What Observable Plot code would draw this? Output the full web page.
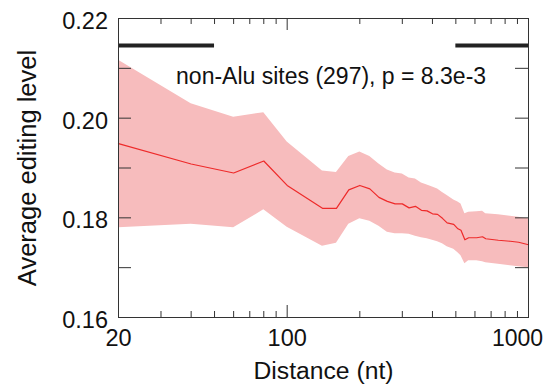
<!DOCTYPE html>
<html>
<head>
<meta charset="utf-8">
<script src="https://cdn.jsdelivr.net/npm/d3@7"></script>
<script src="https://cdn.jsdelivr.net/npm/@observablehq/plot@0.6"></script>
<style>
  html, body { margin: 0; padding: 0; background: #fff; }
  svg { font-family: "Liberation Sans", Arial, sans-serif; }
</style>
</head>
<body>
<div id="chart"></div>
<script>
// ---- data ----
const distance = [20,40,60,80,100,140,160,180,200,220,240,260,280,300,320,340,360,380,400,420,440,460,490,510,525,545,565,610,645,665,750,840,910,1000];
const meanLevel = [0.1949,0.1908,0.1890,0.1914,0.1865,0.1819,0.1819,0.1856,0.1865,0.1858,0.1841,0.1833,0.1828,0.1828,0.1820,0.1823,0.1815,0.1814,0.1808,0.1807,0.1799,0.1790,0.1787,0.1778,0.1775,0.1756,0.1760,0.1760,0.1762,0.1758,0.1755,0.1753,0.1751,0.1746];
const upperLevel = [0.2116,0.2029,0.2002,0.2011,0.1952,0.1894,0.1891,0.1923,0.1932,0.1923,0.1908,0.1896,0.1890,0.1888,0.1880,0.1878,0.1870,0.1866,0.1862,0.1858,0.1851,0.1845,0.1836,0.1832,0.1828,0.1808,0.1811,0.1812,0.1813,0.1808,0.1806,0.1803,0.1801,0.1798];
const lowerLevel = [0.1780,0.1787,0.1780,0.1816,0.1781,0.1743,0.1749,0.1787,0.1798,0.1793,0.1783,0.1771,0.1768,0.1768,0.1767,0.1763,0.1760,0.1758,0.1755,0.1752,0.1748,0.1742,0.1737,0.1730,0.1724,0.1708,0.1714,0.1714,0.1712,0.1710,0.1707,0.1704,0.1702,0.1700];

const barStarts = [20, 500];
const barEnds = [50, 1000];
const barLevel = 0.2146;

const yTickLabels = [0.16, 0.18, 0.20, 0.22];
const yTicks = [0.16, 0.17, 0.18, 0.19, 0.20, 0.21, 0.22];
const xTickLabels = [20, 100];
const xEndLabel = [1000];
const xMajorTicks = [100];
const xMinorTicks = [30,40,50,60,70,80,90,200,300,400,500,600,700,800,900];

const noteText = "non-Alu sites (297), p = 8.3e-3";
const xLabel = "Distance (nt)";
const yLabel = "Average editing level";

// ---- build ----
const rows = distance.map((d, i) => ({d, m: meanLevel[i], hi: upperLevel[i], lo: lowerLevel[i]}));
const bars = barStarts.map((s, i) => ({x1: s, x2: barEnds[i], y: barLevel}));

const W = 548, H = 386;
const mL = 118, mR = 20, mT = 18, mB = 69;
const plotW = W - mL - mR, plotH = H - mT - mB;
const axisColor = "#333";

const chart = Plot.plot({
  width: W, height: H,
  marginLeft: mL, marginRight: mR, marginTop: mT, marginBottom: mB,
  x: {type: "log", domain: [20, 1000]},
  y: {domain: [0.16, 0.22]},
  style: {fontFamily: "Liberation Sans, Arial, sans-serif", color: "#111", background: "#fff"},
  marks: [
    Plot.areaY(rows, {x: "d", y1: "lo", y2: "hi", fill: "#f7bcbd", fillOpacity: 1}),
    Plot.lineY(rows, {x: "d", y: "m", stroke: "#ee2a2a", strokeWidth: 1.2}),
    Plot.ruleY(bars, {x1: "x1", x2: "x2", y: "y", stroke: "#222", strokeWidth: 4}),
    // inward ticks
    Plot.tickY(yTicks, {y: d => d, insetRight: plotW - 13, stroke: axisColor}),
    Plot.tickY(yTicks, {y: d => d, insetLeft: plotW - 13, stroke: axisColor}),
    Plot.tickX(xMinorTicks, {x: d => d, insetTop: plotH - 6, stroke: axisColor}),
    Plot.tickX(xMinorTicks, {x: d => d, insetBottom: plotH - 6, stroke: axisColor}),
    Plot.tickX(xMajorTicks, {x: d => d, insetTop: plotH - 12, stroke: axisColor}),
    Plot.tickX(xMajorTicks, {x: d => d, insetBottom: plotH - 12, stroke: axisColor}),
    Plot.frame({stroke: axisColor, strokeWidth: 1}),
    // tick labels
    Plot.axisY({ticks: yTickLabels, tickSize: 0, tickPadding: 10.5, tickFormat: d3.format(".2f"), fontSize: 23.5, dy: 3, label: null}),
    Plot.axisX({ticks: xTickLabels, tickSize: 0, tickPadding: 12, tickFormat: d => String(d), fontSize: 23.5, label: null}),
    Plot.axisX({ticks: xEndLabel, tickSize: 0, tickPadding: 12, tickFormat: d => String(d), fontSize: 23, dx: -11, label: null}),
    // annotation and axis titles
    Plot.text([noteText], {x: 152, y: 0.2084, text: d => d, textAnchor: "middle", lineAnchor: "middle", fontSize: 23, fill: "#111"}),
    Plot.text([xLabel], {frameAnchor: "bottom", text: d => d, dy: 53.5, textAnchor: "middle", lineAnchor: "middle", fontSize: 24.7, fill: "#111"}),
    Plot.text([yLabel], {frameAnchor: "left", text: d => d, dx: -91, rotate: -90, textAnchor: "middle", lineAnchor: "middle", fontSize: 25.5, fill: "#111"})
  ]
});
document.getElementById("chart").appendChild(chart);
</script>
</body>
</html>
